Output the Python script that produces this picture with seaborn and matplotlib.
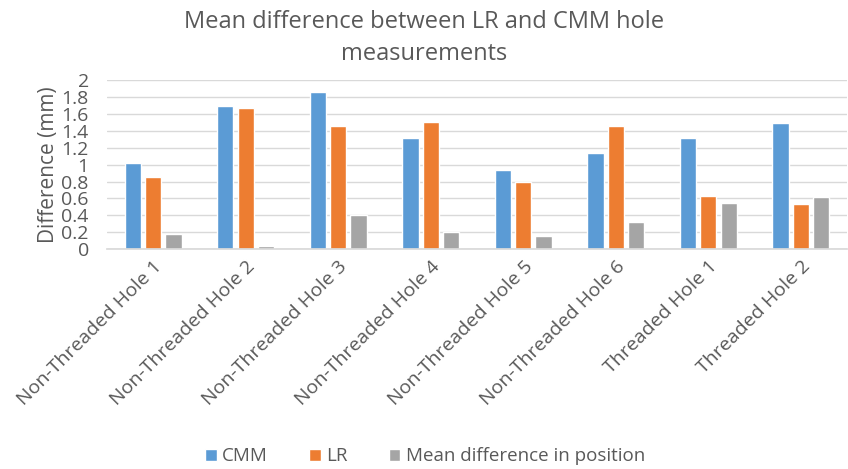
import matplotlib
matplotlib.use("Agg")
import matplotlib.pyplot as plt
import seaborn as sns
import pandas as pd

categories = ["Non-Threaded Hole 1", "Non-Threaded Hole 2", "Non-Threaded Hole 3",
              "Non-Threaded Hole 4", "Non-Threaded Hole 5", "Non-Threaded Hole 6",
              "Threaded Hole 1", "Threaded Hole 2"]
cmm = [1.02, 1.70, 1.86, 1.32, 0.94, 1.14, 1.32, 1.49]
lr = [0.85, 1.67, 1.46, 1.50, 0.80, 1.46, 0.63, 0.53]
mean_diff = [0.18, 0.04, 0.40, 0.20, 0.15, 0.32, 0.55, 0.62]
series = ["CMM", "LR", "Mean difference in position"]
colors = ["#5B9BD5", "#ED7D31", "#A5A5A5"]

rows = []
for name, vals in zip(series, [cmm, lr, mean_diff]):
    for c, v in zip(categories, vals):
        rows.append({"Category": c, "Series": name, "Value": v})
df = pd.DataFrame(rows)

sns.set_theme(style="white")
plt.rcParams['font.family'] = ['Open Sans', 'DejaVu Sans']
txt = "#595959"

fig = plt.figure(figsize=(8.48, 4.69), dpi=100)
ax = fig.add_axes([0.126, 0.469, 0.873, 0.36])
sns.barplot(data=df, x="Category", y="Value", hue="Series", order=categories,
            hue_order=series, palette=colors, width=0.66, gap=0.2,
            saturation=1, ax=ax, legend=True)

ax.set_ylim(0, 2)
ax.set_yticks([i / 5 for i in range(11)])
ax.set_yticklabels(["0", "0.2", "0.4", "0.6", "0.8", "1", "1.2", "1.4", "1.6", "1.8", "2"])
ax.yaxis.grid(True, color="#D9D9D9", linewidth=1)
ax.set_axisbelow(True)
for s in ["top", "right", "left"]:
    ax.spines[s].set_visible(False)
ax.spines["bottom"].set_color("#D9D9D9")
ax.tick_params(axis="y", labelsize=14, colors=txt, length=0, pad=13)
ax.tick_params(axis="x", labelsize=14, colors=txt, length=0, pad=6)
plt.setp(ax.get_xticklabels(), rotation=45, ha="right", rotation_mode="anchor")
ax.set_xlabel("")
ax.set_ylabel("Difference (mm)", fontsize=15, color=txt, labelpad=2)

fig.suptitle("Mean difference between LR and CMM hole\nmeasurements", fontsize=17,
             color=txt, y=0.978, x=0.5, linespacing=1.45)

leg = ax.legend(loc="lower center", bbox_to_anchor=(0.43, -1.38), ncol=3, frameon=False,
                fontsize=13.5, handlelength=0.6, handleheight=0.6, columnspacing=2.2,
                handletextpad=0.3)
for t in leg.get_texts():
    t.set_color(txt)

fig.savefig("out.png", dpi=100)
